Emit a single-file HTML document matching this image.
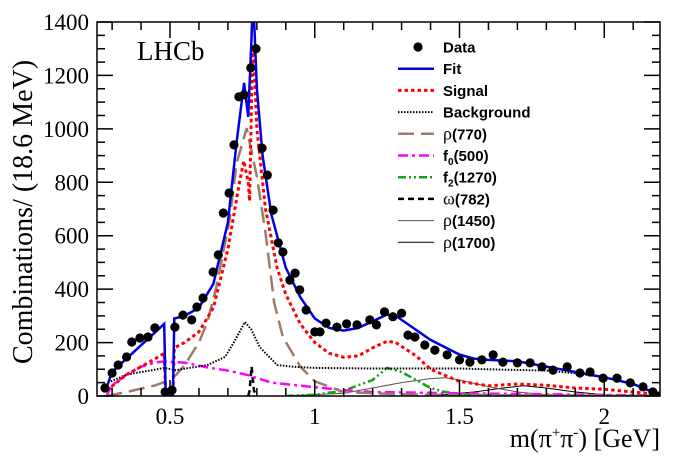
<!DOCTYPE html>
<html><head><meta charset="utf-8"><style>
body{margin:0;background:#fff;}
svg{display:block;}
.tl{font-family:"Liberation Serif",serif;font-size:23px;fill:#000;}
.lg{font-family:"Liberation Sans",sans-serif;font-size:15px;font-weight:bold;fill:#000;}
</style></head><body>
<svg id="chart" width="698" height="472" viewBox="0 0 698 472" xmlns="http://www.w3.org/2000/svg">
<defs><clipPath id="pc"><rect x="97" y="22" width="563" height="374"/></clipPath></defs>
<g id="curves" clip-path="url(#pc)"></g>
<g id="axes"></g>
<text x="137" y="60" font-family="Liberation Serif,serif" font-size="27">LHCb</text>
<text transform="translate(32,212) rotate(-90)" text-anchor="middle" class="tl" style="font-size:28px">Combinations/ (18.6 MeV)</text>
<text x="660" y="447" text-anchor="end" class="tl" style="font-size:26px">m(π<tspan font-size="15" dy="-10">+</tspan><tspan dy="10">π</tspan><tspan font-size="15" dy="-10">-</tspan><tspan dy="10">) [GeV]</tspan></text>
<g id="legend"></g>
</svg>
<script>
const dataX=[0.275,0.30,0.321,0.35,0.368,0.396,0.424,0.448,0.483,0.507,0.517,0.545,0.575,0.593,0.614,0.649,0.667,0.684,0.704,0.721,0.738,0.756,0.779,0.797,0.818,0.836,0.856,0.874,0.890,0.914,0.932,0.948,0.970,1.0,1.018,1.039,1.077,1.11,1.146,1.19,1.213,1.241,1.27,1.30,1.322,1.346,1.38,1.415,1.457,1.50,1.536,1.577,1.616,1.65,1.70,1.744,1.785,1.823,1.872,1.916,1.951,1.996,2.044,2.09,2.134,2.168,2.19];
const dataY=[30,86,116,146,202,217,221,255,15,22,258,303,285,333,367,464,528,685,760,940,1120,1127,1228,1300,928,827,696,573,539,434,460,397,322,240,240,273,258,270,266,285,266,315,297,310,228,221,191,172,154,135,127,135,154,127,124,124,109,97,109,86,90,67,67,49,34,15,0];
const fitX=[0.28,0.30,0.35,0.40,0.45,0.48,0.485,0.51,0.515,0.55,0.60,0.65,0.70,0.73,0.756,0.77,0.78,0.787,0.80,0.82,0.85,0.90,0.95,1.0,1.05,1.1,1.15,1.2,1.25,1.28,1.32,1.4,1.5,1.55,1.6,1.7,1.8,1.9,2.0,2.1,2.19];
const fitY=[30,90,140,190,240,270,0,0,290,300,330,420,650,950,1172,1045,1300,1500,1150,900,680,480,370,290,255,245,255,280,305,300,270,210,155,140,135,130,110,90,70,45,5];
const sigX=[0.28,0.35,0.40,0.45,0.48,0.485,0.51,0.515,0.55,0.60,0.65,0.70,0.74,0.755,0.77,0.775,0.785,0.79,0.80,0.83,0.87,0.9,0.95,1.0,1.05,1.1,1.15,1.2,1.25,1.28,1.35,1.4,1.5,1.6,1.7,1.8,1.9,2.0,2.1,2.19];
const sigY=[20,80,110,140,160,0,0,180,200,240,330,550,800,880,800,730,1300,1250,1000,700,480,380,270,200,160,145,150,180,205,200,150,100,55,38,45,40,30,25,15,5];
const bkgX=[0.28,0.29,0.35,0.44,0.48,0.52,0.63,0.69,0.72,0.759,0.78,0.81,0.87,0.93,1.0,1.2,1.5,1.6,1.8,1.9,2.0,2.1,2.19];
const bkgY=[40,52,80,97,105,97,116,146,200,277,250,183,116,109,105,103,103,100,95,85,70,45,5];
const rhoX=[0.28,0.35,0.45,0.48,0.52,0.55,0.60,0.63,0.66,0.706,0.73,0.765,0.80,0.83,0.86,0.89,0.95,1.0,1.1,1.3,1.6,2.19];
const rhoY=[0,15,40,52,78,115,200,280,408,659,872,1003,820,610,348,221,110,55,15,6,3,0];
const f0X=[0.28,0.30,0.35,0.40,0.45,0.48,0.51,0.55,0.62,0.70,0.77,0.85,0.99,1.1,1.2,1.5,2.19];
const f0Y=[0,40,80,110,125,130,127,125,109,95,78,50,34,22,15,10,2];
const f2X=[0.9,1.0,1.1,1.2,1.25,1.3,1.35,1.4,1.45,1.5,1.6,2.19];
const f2Y=[0,5,20,60,105,90,60,30,15,8,3,0];
const omX=[0.77,0.775,0.782,0.79,0.80];
const omY=[0,20,110,20,0];
const r1450X=[0.9,1.1,1.2,1.3,1.4,1.45,1.5,1.6,1.7,1.8,2.0,2.19];
const r1450Y=[0,10,30,50,65,68,60,35,15,5,2,0];
const r1700X=[1.4,1.55,1.65,1.72,1.8,1.9,2.0,2.19];
const r1700Y=[0,15,30,38,30,15,5,0];
const yTicks=[0,200,400,600,800,1000,1200,1400];
const xTicks=[0.5,1,1.5,2];
const xTickLabels=["0.5","1","1.5","2"];

const NS="http://www.w3.org/2000/svg";
const X0=97,X1=660,Y0=396,Y1=22;
function sx(v){return 25.25+v*289.5;}
function sy(v){return Y0-v*(Y0-Y1)/1400;}
function mk(t,a,p){const e=document.createElementNS(NS,t);for(const k in a)e.setAttribute(k,a[k]);p.appendChild(e);return e;}
const curves=document.getElementById('curves'),axes=document.getElementById('axes'),leg=document.getElementById('legend');
function line(xs,ys,st,name){
  const pts=xs.map((x,i)=>sx(x).toFixed(1)+','+sy(ys[i]).toFixed(1)).join(' ');
  const e=mk('polyline',Object.assign({points:pts,fill:'none'},st),curves);
  
  
}
const S={
 r1700:{stroke:'#000','stroke-width':1},
 r1450:{stroke:'#555','stroke-width':1},
 om:{stroke:'#000','stroke-width':2.5,'stroke-dasharray':'6,4'},
 f2:{stroke:'#1a9e1a','stroke-width':2.5,'stroke-dasharray':'8,3,2,3,2,3'},
 f0:{stroke:'#ff00ff','stroke-width':2.5,'stroke-dasharray':'10,4,3,4'},
 rho:{stroke:'#9c7b6a','stroke-width':2.5,'stroke-dasharray':'16,7'},
 bkg:{stroke:'#000','stroke-width':2,'stroke-dasharray':'1.5,1.5'},
 sig:{stroke:'#ff0000','stroke-width':3,'stroke-dasharray':'3.5,3'},
 fit:{stroke:'#0000e6','stroke-width':2.5}
};
line(r1700X,r1700Y,S.r1700,'rho1700-curve');
line(r1450X,r1450Y,S.r1450,'rho1450-curve');
line(omX,omY,S.om,'omega782-curve');
line(f2X,f2Y,S.f2,'f2-1270-curve');
line(f0X,f0Y,S.f0,'f0-500-curve');
line(rhoX,rhoY,S.rho,'rho770-curve');
line(bkgX,bkgY,S.bkg,'background-curve');
line(sigX,sigY,S.sig,'signal-curve');
line(fitX,fitY,S.fit,'fit-curve');
dataX.forEach((x,i)=>{
  const c=mk('circle',{cx:sx(x).toFixed(1),cy:sy(dataY[i]).toFixed(1),r:4.6,fill:'#000'},curves);
  
  
});
const fr=mk('rect',{x:X0,y:Y1,width:X1-X0,height:Y0-Y1,fill:'none',stroke:'#000','stroke-width':1.5},axes);


let tk='';
for(let v=0;v<=1400;v+=50){const y=sy(v),L=(v%200===0)?16:8;tk+=`M${X0},${y}h${L}M${X1},${y}h${-L}`;}
for(let k=3;k<=21;k++){const v=k/10,x=sx(v),L=(k%5===0)?16:8;if(x<X0||x>X1)continue;tk+=`M${x},${Y0}v${-L}M${x},${Y1}v${L}`;}
const tp=mk('path',{d:tk,stroke:'#000','stroke-width':1.5,fill:'none'},axes);


yTicks.forEach(v=>{
  const t=mk('text',{x:89,y:sy(v)+8,'text-anchor':'end',class:'tl'},axes);
  
  
  t.textContent=String(v);
});
xTicks.forEach((v,i)=>{
  const t=mk('text',{x:sx(v),y:424,'text-anchor':'middle',class:'tl'},axes);
  
  
  t.textContent=xTickLabels[i];
});
const items=[['Data',null],['Fit',S.fit],['Signal',S.sig],['Background',S.bkg],['ρ(770)',S.rho],['f0(500)',S.f0],['f2(1270)',S.f2],['ω(782)',S.om],['ρ(1450)',S.r1450],['ρ(1700)',S.r1700]];
items.forEach((it,i)=>{
  const y=47+i*21.7;
  const g=mk('g',{},leg);
  
  
  if(!it[1]) mk('circle',{cx:418,cy:y,r:4.6,fill:'#000'},g);
  else mk('line',Object.assign({x1:398,x2:434,y1:y,y2:y},it[1]),g);
  const t=mk('text',{x:443,y:y+5.5,class:'lg'},g);
  const s=it[0];
  if(s[0]==='ρ'||s[0]==='ω'){const a=mk('tspan',{'font-family':'Liberation Serif,serif','font-weight':'normal','font-size':'18'},t);a.textContent=s[0];const b=mk('tspan',{},t);b.textContent=s.slice(1);}
  else if(s[0]==='f'){const a=mk('tspan',{},t);a.textContent='f';const b=mk('tspan',{'font-size':'10',dy:'4'},t);b.textContent=s[1];const c=mk('tspan',{dy:'-4'},t);c.textContent=s.slice(2);}
  else t.textContent=s;
});
</script>
</body></html>
